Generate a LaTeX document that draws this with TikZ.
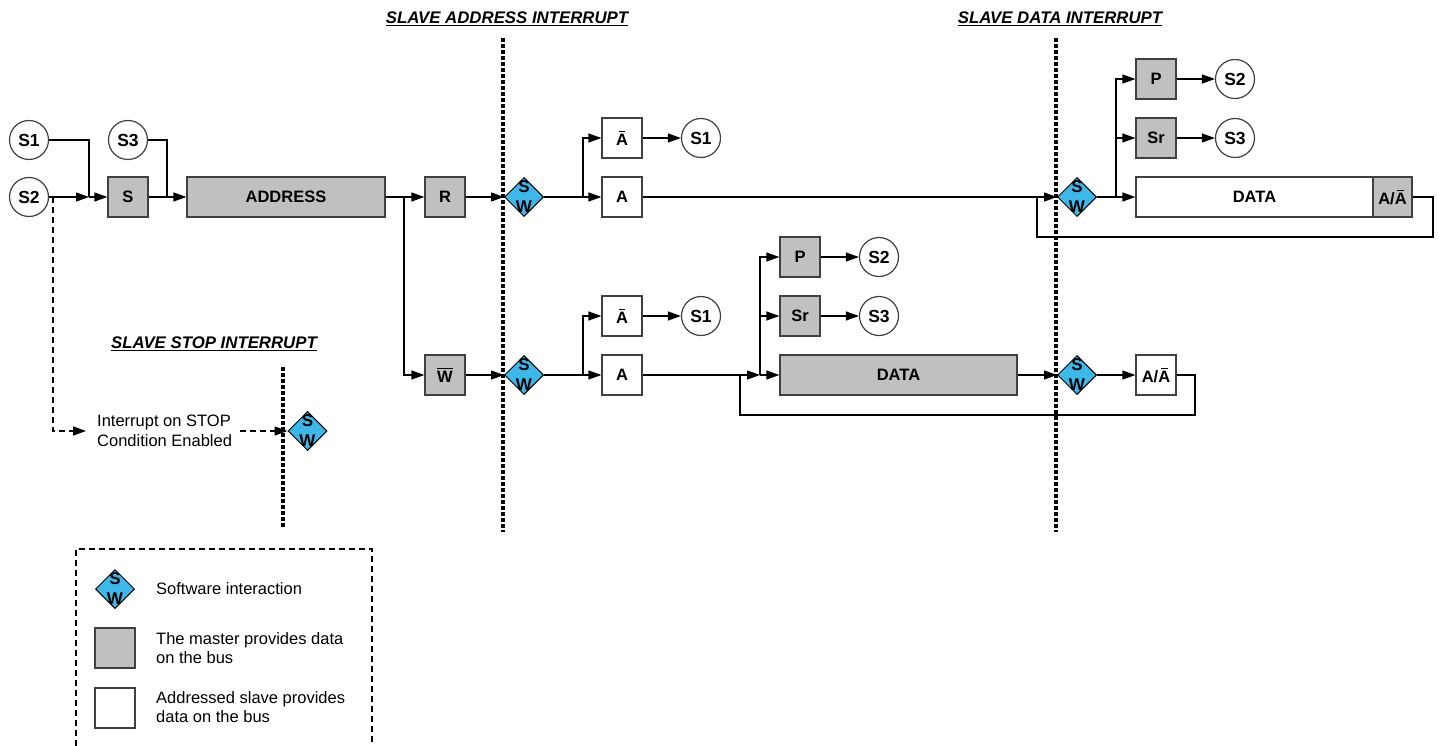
\documentclass[tikz,border=0pt]{standalone}
\usepackage{fontspec}
\setmainfont{Liberation Sans}
\usetikzlibrary{shapes.geometric,arrows.meta}
\definecolor{mgray}{RGB}{192,192,192}
\definecolor{swblue}{RGB}{61,184,234}
\definecolor{bord}{RGB}{64,64,64}
\newcommand\ob[2]{\setbox0\hbox{#2}\rlap{\hbox to\wd0{\hss\raisebox{\dimexpr\ht0+2pt\relax}{\rule{#1\wd0}{1.3pt}}\hss}}\box0}
\begin{document}
\begin{tikzpicture}[x=1pt,y=-1pt,
  every node/.style={font=\fontsize{16.5}{19}\selectfont},
  bx/.style={draw=bord,line width=1.2pt,minimum width=40pt,minimum height=40pt,inner sep=0pt,font=\fontsize{16.5}{19}\selectfont\bfseries},
  mst/.style={bx,fill=mgray},
  slv/.style={bx,fill=white},
  st/.style={circle,draw=bord,line width=1.2pt,minimum size=39pt,inner sep=0pt,font=\fontsize{17.5}{19}\selectfont\bfseries},
  swt/.style={font=\fontsize{17}{17}\selectfont\bfseries,inner sep=0pt},
  swd/.style={diamond,draw=black,line width=1pt,fill=swblue,minimum width=39pt,minimum height=39pt,inner sep=0pt,
     label={[swt,yshift=10.5pt]center:S},label={[swt,yshift=-10pt]center:W}},
  arr/.style={-{Triangle[length=13pt,width=9pt]}},
  ln/.style={line width=1.25pt,black},
  dsh/.style={line width=1.6pt,dash pattern=on 6pt off 4pt},
  dotl/.style={line width=3.5pt,dash pattern=on 4pt off 2pt},
  ttl/.style={font=\fontsize{16.8}{19}\selectfont\bfseries\itshape}
]
\useasboundingbox (0,0) rectangle (1439,746);
\fill[white] (0,0) rectangle (1439,746);

% titles
\node[ttl] (t1) at (507,19) {\underline{SLAVE ADDRESS INTERRUPT}};
\node[ttl] (t2) at (1060,19) {\underline{SLAVE DATA INTERRUPT}};
\node[ttl] (t3) at (214,344) {\underline{SLAVE STOP INTERRUPT}};

% dotted interrupt lines
\coordinate (v1t) at (503,38); \coordinate (v1b) at (503,532);
\coordinate (v2t) at (1056,38); \coordinate (v2b) at (1056,532);
\coordinate (v3t) at (283,367); \coordinate (v3b) at (283,527);
\draw[dotl] (v1t) -- (v1b);
\draw[dotl] (v2t) -- (v2b);
\draw[dotl] (v3t) -- (v3b);

% left part
\node[st] (s1) at (29,140) {S1};
\node[st] (s2) at (29,197) {S2};
\node[st] (s3) at (128,140) {S3};
\node[mst] (sb) at (128,197) {S};
\node[mst,minimum width=198pt] (addr) at (286,197) {ADDRESS};
\node[mst] (rb) at (445,197) {R};
\node[mst] (wb) at (445,375) {\ob{1}{W}};
\node[swd] (d1) at (524,197) {};
\node[swd] (d2) at (524,375) {};

% upper read branch
\node[slv] (na1) at (622,138) {\ob{0.55}{A}};
\node[slv] (a1) at (622,197) {A};
\node[st] (c11) at (701,138) {S1};

% lower write branch
\node[slv] (na2) at (622,316) {\ob{0.55}{A}};
\node[slv] (a2) at (622,375) {A};
\node[st] (c12) at (701,316) {S1};
\node[mst] (p2) at (800,257) {P};
\node[mst] (sr2) at (800,316) {Sr};
\node[mst,minimum width=237pt] (dat2) at (898.5,375) {DATA};
\node[st] (c22) at (879,257) {S2};
\node[st] (c32) at (879,316) {S3};
\node[swd] (d4) at (1077,375) {};
\node[slv] (aa2) at (1156,375) {A/\ob{0.55}{A}};

% data interrupt upper
\node[swd] (d3) at (1077,197) {};
\node[mst] (p1) at (1156,79) {P};
\node[mst] (sr1) at (1156,138) {Sr};
\node[slv,minimum width=237pt] (dat1) at (1254.5,197) {DATA};
\node[mst,minimum width=39pt] (aa1) at (1392.5,197) {A/\ob{0.55}{A}};
\node[st] (c21) at (1235,79) {S2};
\node[st] (c31) at (1235,138) {S3};

% stop interrupt
\node[inner sep=0pt,align=left,anchor=west,font=\fontsize{16.5}{20}\selectfont] (stp) at (97,431) {Interrupt on STOP\\Condition Enabled};
\node[swd] (d5) at (307.5,431) {};

% coordinates
\coordinate (j1) at (89,197);
\coordinate (j2) at (167,197);
\coordinate (j3) at (404,197);
\coordinate (j4) at (583,197);
\coordinate (j5) at (1116,197);
\coordinate (j6) at (583,375);
\coordinate (j7) at (740,375);
\coordinate (j8) at (760,375);
\coordinate (js) at (53,197);
\coordinate (la) at (1433,197); \coordinate (lb) at (1433,237);
\coordinate (lc) at (1037,237); \coordinate (ld) at (1037,197);
\coordinate (ma) at (1195,375); \coordinate (mb) at (1195,415);
\coordinate (mc) at (740,415);

% connectors left
\draw[ln,arr] (s2.east) -- (j1);
\draw[ln] (s1.east) -| (j1);
\draw[ln,arr] (j1) -- (sb.west);
\draw[ln,arr] (sb.east) -- (addr.west);
\draw[ln] (s3.east) -| (j2);
\draw[ln,arr] (addr.east) -- (rb.west);
\draw[ln,arr] (j3) |- (wb.west);
\draw[ln,arr] (rb.east) -- (d1.west);
\draw[ln,arr] (wb.east) -- (d2.west);

% read branch
\draw[ln,arr] (d1.east) -- (a1.west);
\draw[ln,arr] (j4) |- (na1.west);
\draw[ln,arr] (na1.east) -- (c11.west);
\draw[ln,arr] (a1.east) -- (d3.west);
\draw[ln,arr] (d3.east) -- (dat1.west);
\draw[ln,arr] (j5) |- (p1.west);
\draw[ln,arr] (j5) |- (sr1.west);
\draw[ln,arr] (p1.east) -- (c21.west);
\draw[ln,arr] (sr1.east) -- (c31.west);
\draw[ln] (aa1.east) -- (la) -- (lb) -- (lc) -- (ld);

% write branch
\draw[ln,arr] (d2.east) -- (a2.west);
\draw[ln,arr] (j6) |- (na2.west);
\draw[ln,arr] (na2.east) -- (c12.west);
\draw[ln] (a2.east) -- (j7);
\draw[ln,arr] (j7) -- (j8);
\draw[ln,arr] (j8) -- (dat2.west);
\draw[ln,arr] (j8) |- (p2.west);
\draw[ln,arr] (j8) |- (sr2.west);
\draw[ln,arr] (p2.east) -- (c22.west);
\draw[ln,arr] (sr2.east) -- (c32.west);
\draw[ln,arr] (dat2.east) -- (d4.west);
\draw[ln,arr] (d4.east) -- (aa2.west);
\draw[ln] (aa2.east) -- (ma) -- (mb) -- (mc) -- (j7);

% stop path
\draw[dsh,arr] (js) |- ([xshift=-11pt]stp.west);
\draw[dsh,arr] ([xshift=8pt]stp.east) -- (d5.west);

% legend
\coordinate (ga) at (76,746); \coordinate (gb) at (76,549);
\coordinate (gc) at (372,549); \coordinate (gd) at (372,746);
\draw[dsh] (ga) -- (gb) -- (gc) -- (gd);
\node[swd] (lgd) at (115,589) {};
\node[mst] (lgm) at (115,648) {};
\node[slv] (lgs) at (115,708) {};
\node[anchor=west,inner sep=0pt] (lt1) at (156,589) {Software interaction};
\node[anchor=west,inner sep=0pt,align=left] (lt2) at (156,648) {The master provides data\\on the bus};
\node[anchor=west,inner sep=0pt,align=left] (lt3) at (156,707) {Addressed slave provides\\data on the bus};
\end{tikzpicture}
\end{document}
